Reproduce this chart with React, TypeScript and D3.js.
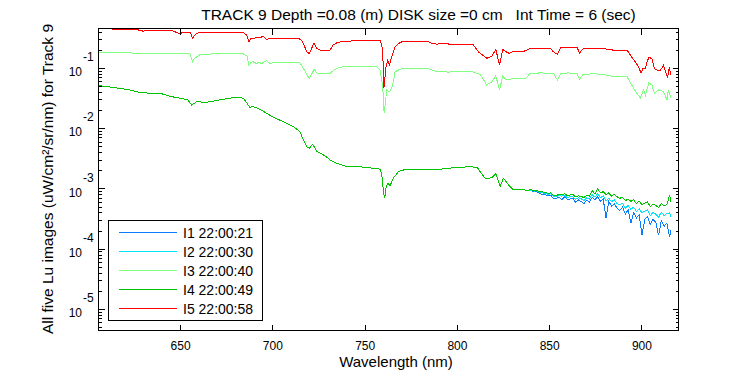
import React from 'react';
import * as d3 from 'd3';

// ---------------- data ----------------
const seriesNames = ['I1 22:00:21', 'I2 22:00:30', 'I3 22:00:40', 'I4 22:00:49', 'I5 22:00:58'];
const seriesColors = ['#0a7cff', '#00e4f4', '#80ff80', '#00c400', '#ff0000'];

const xTicks = [650, 700, 750, 800, 850, 900];
const yTickExps = [-5, -4, -3, -2, -1];

// I5 (red)
const wlI5 = [605, 609, 612, 613.3, 617, 621, 626, 628, 629.6, 632, 638, 645, 647, 649.6, 651.2, 654, 655.3, 656.5, 657.5, 658.7,
  661, 668, 675, 683.8, 685.8, 687, 688.2, 689.5, 691, 693, 694.6, 696.6, 698.4, 700.5, 705, 710, 714, 715.6, 716.9, 718.3,
  719.7, 721, 722.3, 723.8, 725.5, 728, 731, 732.6, 734.6, 738, 743, 748, 752.7, 756.5, 758.1, 759, 759.5, 760.2, 761.3, 762.3,
  763.1, 764.4, 766.2, 768.9, 771, 777, 783.6, 786, 788.8, 791, 794.3, 796, 800, 805, 808.5, 811.4, 815.9, 818.7, 820.8, 822.8,
  824.6, 826.4, 828.2, 830, 835.6, 839.4, 845, 850.3, 852.1, 854.2, 856.1, 860, 864.8, 866.2, 868.2, 873, 879, 884.4, 888, 891.9,
  893.7, 895.4, 896.4, 898.2, 899.5, 900.6, 901.9, 902.8, 903.7, 905.4, 906.7, 908.1, 910, 911.7, 913, 913.9, 914.8, 915.7];
const luI5 = [0.47, 0.465, 0.458, 0.448, 0.44, 0.436, 0.438, 0.43, 0.415, 0.425, 0.426, 0.424, 0.405, 0.372, 0.399, 0.398, 0.392, 0.314, 0.35, 0.382,
  0.396, 0.397, 0.395, 0.396, 0.356, 0.276, 0.32, 0.31, 0.33, 0.318, 0.343, 0.302, 0.316, 0.314, 0.313, 0.316, 0.312, 0.294, 0.243, 0.188,
  0.177, 0.214, 0.265, 0.214, 0.201, 0.199, 0.202, 0.243, 0.265, 0.283, 0.285, 0.288, 0.294, 0.294, 0.292, 0.243, 0.19, 0.048, 0.106, 0.137,
  0.113, 0.156, 0.228, 0.269, 0.283, 0.284, 0.282, 0.262, 0.252, 0.26, 0.259, 0.249, 0.25, 0.248, 0.249, 0.188, 0.147, 0.16, 0.206, 0.114,
  0.206, 0.188, 0.177, 0.19, 0.19, 0.214, 0.216, 0.214, 0.188, 0.17, 0.223, 0.224, 0.222, 0.181, 0.214, 0.215, 0.213, 0.201, 0.2, 0.201,
  0.166, 0.14, 0.128, 0.106, 0.083, 0.1, 0.099, 0.128, 0.152, 0.146, 0.1, 0.094, 0.093, 0.113, 0.083, 0.071, 0.104, 0.077];

// I3 (light green)
const wlI3 = [605.7, 612, 620, 626, 635, 645, 652, 655, 656.5, 657.5, 658.7, 661, 670, 678, 684, 686, 687, 688.2, 689.2, 691,
  692.5, 694, 696.6, 698.4, 700, 705, 710, 714.7, 716.5, 718.3, 719.7, 721, 722.3, 724, 727.3, 731, 733.5, 736, 738, 745,
  750, 756.5, 758.1, 759.5, 760.3, 761.7, 763.1, 764.4, 765.3, 766.2, 768.9, 772, 778, 783.6, 788.8, 795, 802, 808, 812.3, 815.9,
  818.7, 820.8, 822.8, 824.6, 826.4, 830.2, 837, 839.4, 845, 852, 854.2, 856.1, 860, 864.8, 866.2, 868.2, 874, 879, 884.4, 888,
  891.9, 895.4, 899.1, 900.9, 901.9, 903.7, 905.4, 906.7, 909, 911.7, 913.6, 914.3, 915.7];
const luI3 = [0.186, 0.184, 0.185, 0.177, 0.176, 0.175, 0.176, 0.174, 0.129, 0.146, 0.156, 0.172, 0.174, 0.175, 0.174, 0.16, 0.114, 0.125, 0.129, 0.121,
  0.125, 0.121, 0.134, 0.121, 0.124, 0.123, 0.124, 0.124, 0.1, 0.08, 0.068, 0.08, 0.096, 0.083, 0.082, 0.083, 0.096, 0.103, 0.106, 0.107,
  0.106, 0.106, 0.094, 0.05, 0.018, 0.044, 0.041, 0.047, 0.06, 0.088, 0.097, 0.1, 0.1, 0.1, 0.088, 0.087, 0.088, 0.088, 0.08, 0.053,
  0.06, 0.075, 0.044, 0.075, 0.064, 0.068, 0.068, 0.083, 0.084, 0.083, 0.064, 0.083, 0.084, 0.082, 0.066, 0.08, 0.081, 0.08, 0.073, 0.072,
  0.073, 0.047, 0.032, 0.044, 0.036, 0.058, 0.053, 0.039, 0.044, 0.041, 0.03, 0.044, 0.033];

// I1 / I2 / I4 coincide below 840 nm
const wlLowShared = [606, 610, 614, 617, 621, 625, 628, 632, 636, 639, 642, 645, 648, 651, 654, 656, 658.7, 661, 664, 668,
  671, 675, 678.5, 682, 684, 686, 687.5, 689, 691, 693, 696.6, 700, 703, 705.6, 708, 711, 714.7, 716.5, 718.3, 719.7,
  721.6, 723.8, 725.5, 727.3, 729, 731, 734.6, 737, 740, 743, 746, 749, 752, 755, 758.1, 759, 759.9, 760.6, 761.3, 762.3,
  763.5, 765.3, 768, 771, 775, 780, 785, 790, 795, 801.5, 806, 810.7, 812.3, 815, 817, 818.7, 820.8, 821.8, 823.2, 824.9,
  826.5, 827.7, 830.2, 833, 835.6, 838];
const luLowShared = [0.0515, 0.050, 0.048, 0.0467, 0.0447, 0.0421, 0.0395, 0.0390, 0.0387, 0.0386, 0.0361, 0.0341, 0.0326, 0.0316, 0.0299, 0.0247, 0.0280, 0.0277, 0.0274, 0.0287,
  0.0299, 0.0314, 0.0326, 0.0329, 0.0319, 0.0263, 0.0226, 0.0233, 0.0224, 0.0209, 0.0180, 0.0156, 0.0142, 0.0131, 0.0120, 0.0108, 0.00892, 0.0065, 0.00504, 0.00474,
  0.00552, 0.00416, 0.00395, 0.00367, 0.00341, 0.00303, 0.00267, 0.00251, 0.00235, 0.00237, 0.00234, 0.00230, 0.00224, 0.00220, 0.00213, 0.00171, 0.000906, 0.000705, 0.00103, 0.00125,
  0.00113, 0.00151, 0.00194, 0.00207, 0.00207, 0.00207, 0.00211, 0.00211, 0.00220, 0.00230, 0.00232, 0.00230, 0.00194, 0.00151, 0.00151, 0.00153, 0.00178, 0.00145, 0.00110, 0.00151,
  0.00131, 0.00117, 0.000966, 0.000985, 0.000966, 0.000950];

const wlLowTail = [840, 841.5, 843, 844.5, 846, 847.5, 849, 850.5, 852, 853.5, 855, 856.5, 858, 859.5, 861, 862.5, 864, 865.5, 867, 868.5,
  870, 871.5, 873, 874.5, 876, 877.5, 879, 880.5, 882, 883.5, 885, 886.5, 888, 889.5, 891, 892.5, 894, 895.5, 897, 898.5,
  900, 901.5, 903, 904.5, 906, 907.5, 909, 910.5, 912, 913.5, 915, 915.7];
const luI1Tail = [0.00093, 0.00089, 0.00090, 0.00084, 0.00081, 0.00082, 0.00076, 0.00079, 0.00070, 0.00069, 0.00073, 0.00066, 0.00074, 0.00067, 0.00068, 0.00070, 0.00060, 0.00066, 0.00062, 0.00057,
  0.00065, 0.00061, 0.00072, 0.00066, 0.00074, 0.00063, 0.00068, 0.00033, 0.00062, 0.00052, 0.00057, 0.00048, 0.00044, 0.00050, 0.00038, 0.00045, 0.00027, 0.00040, 0.00033, 0.00037,
  0.00017, 0.00031, 0.00035, 0.00026, 0.00031, 0.00028, 0.00017, 0.00030, 0.00024, 0.00027, 0.00016, 0.00021];
const luI2Tail = [0.00095, 0.00092, 0.00093, 0.00088, 0.00086, 0.00085, 0.00081, 0.00083, 0.00075, 0.00074, 0.00078, 0.00076, 0.00079, 0.00072, 0.00074, 0.00075, 0.00067, 0.00071, 0.00069, 0.00064,
  0.00071, 0.00068, 0.00081, 0.00073, 0.00084, 0.00071, 0.00077, 0.00063, 0.00070, 0.00061, 0.00066, 0.00057, 0.00055, 0.00058, 0.00048, 0.00053, 0.00046, 0.00050, 0.00042, 0.00047,
  0.00040, 0.00043, 0.00045, 0.00036, 0.00041, 0.00038, 0.00034, 0.00041, 0.00036, 0.00039, 0.00040, 0.00034];
const luI4Tail = [0.00097, 0.00093, 0.00095, 0.00090, 0.00089, 0.00088, 0.00084, 0.00086, 0.00079, 0.00077, 0.00082, 0.00080, 0.00083, 0.00078, 0.00079, 0.00081, 0.00074, 0.00077, 0.00075, 0.00072,
  0.00078, 0.00076, 0.00094, 0.00083, 0.00101, 0.00086, 0.00090, 0.00081, 0.00086, 0.00076, 0.00082, 0.00074, 0.00070, 0.00073, 0.00064, 0.00068, 0.00062, 0.00066, 0.00057, 0.00063,
  0.00055, 0.00058, 0.00061, 0.00051, 0.00056, 0.00053, 0.00049, 0.00057, 0.00052, 0.00055, 0.00079, 0.00060];

// ---------------- layout ----------------
const W = 750, H = 375;
const L = 98.5, R = 678.5, T = 28.5, B = 330.5;
const FONT = '"Liberation Sans", Arial, Helvetica, sans-serif';

const x = d3.scaleLinear().domain([605.5, 919.8]).range([L, R]);
const y = d3.scaleLog().domain([4.48e-6, 0.459]).range([B, T]);

const zip = (a: number[], b: number[]) => a.map((w, i) => [w, b[i]] as [number, number]);
const wlLow = wlLowShared.concat(wlLowTail);
const seriesData: [number, number][][] = [
  zip(wlLow, luLowShared.concat(luI1Tail)),
  zip(wlLow, luLowShared.concat(luI2Tail)),
  zip(wlI3, luI3),
  zip(wlLow, luLowShared.concat(luI4Tail)),
  zip(wlI5, luI5),
];

const line = d3.line<[number, number]>().x(d => x(d[0])).y(d => y(d[1]));

export default function App() {
  const [d0, d1] = y.domain();
  const minor: number[] = [];
  for (let e = -6; e <= 0; e++) {
    for (let k = 2; k <= 9; k++) {
      const v = k * Math.pow(10, e);
      if (v > d0 && v < d1) minor.push(v);
    }
  }
  const major = yTickExps.map(e => Math.pow(10, e));
  const snap = (v: number) => Math.round(v - 0.5) + 0.5;

  return (
    <svg width={W} height={H} style={{ position: 'absolute', left: 0, top: 0, background: '#fff' }} fontFamily={FONT}>
      <rect x={0} y={0} width={W} height={H} fill="#fff" />
      <defs>
        <clipPath id="plotclip">
          <rect x={L} y={T} width={R - L} height={B - T} />
        </clipPath>
      </defs>
      <rect x={L} y={T} width={R - L} height={B - T} fill="#fff" />
      <g clipPath="url(#plotclip)">
        {seriesData.map((s, i) => (
          <path key={i} d={line(s) || ''} fill="none" stroke={seriesColors[i]} strokeWidth={1} shapeRendering="crispEdges" />
        ))}
      </g>
      {/* axes box */}
      <rect x={L} y={T} width={R - L} height={B - T} fill="none" stroke="#000" strokeWidth={1} shapeRendering="crispEdges" />
      {/* x ticks */}
      {xTicks.map(t => {
        const xx = snap(x(t));
        return (
          <g key={t}>
            <line x1={xx} x2={xx} y1={B} y2={B - 6} stroke="#000" shapeRendering="crispEdges" />
            <line x1={xx} x2={xx} y1={T} y2={T + 6} stroke="#000" shapeRendering="crispEdges" />
            <text x={x(t)} y={349.5} fontSize={12} textAnchor="middle" fill="#000">{t}</text>
          </g>
        );
      })}
      {/* y minor ticks */}
      {minor.map((v, i) => {
        const yy = snap(y(v));
        return (
          <g key={'m' + i}>
            <line x1={L} x2={L + 3} y1={yy} y2={yy} stroke="#000" shapeRendering="crispEdges" />
            <line x1={R} x2={R - 3} y1={yy} y2={yy} stroke="#000" shapeRendering="crispEdges" />
          </g>
        );
      })}
      {/* y major ticks */}
      {major.map((v, i) => {
        const yy = snap(y(v));
        return (
          <g key={'M' + i}>
            <line x1={L} x2={L + 6} y1={yy} y2={yy} stroke="#000" shapeRendering="crispEdges" />
            <line x1={R} x2={R - 6} y1={yy} y2={yy} stroke="#000" shapeRendering="crispEdges" />
            <text x={82} y={y(v) + 7.7} fontSize={12} textAnchor="end" fill="#000">10</text>
            <text x={83} y={y(v) - 7.3} fontSize={12} textAnchor="start" fill="#000">{String(yTickExps[i])}</text>
          </g>
        );
      })}
      {/* title */}
      <text x={418.5} y={20} fontSize={15.5} textAnchor="middle" fill="#000" style={{ whiteSpace: 'pre' }}>
        {'TRACK 9 Depth =0.08 (m) DISK size =0 cm   Int Time = 6 (sec)'}
      </text>
      {/* x label */}
      <text x={396} y={367} fontSize={15} textAnchor="middle" fill="#000">Wavelength (nm)</text>
      {/* y label */}
      <text transform={`translate(53,179) rotate(-90)`} fontSize={15.5} textAnchor="middle" fill="#000">
        All five Lu images (uW/cm²/sr/nm) for Track 9
      </text>
      {/* legend */}
      <rect x={108.5} y={220.5} width={154} height={100} fill="#fff" stroke="#000" strokeWidth={1} shapeRendering="crispEdges" />
      {seriesNames.map((n, i) => {
        const yy = 232.5 + i * 19.1;
        return (
          <g key={n}>
            <line x1={119} x2={177} y1={snap(yy)} y2={snap(yy)} stroke={seriesColors[i]} strokeWidth={1} shapeRendering="crispEdges" />
            <text x={183} y={yy + 5} fontSize={14} fill="#000">{n}</text>
          </g>
        );
      })}
    </svg>
  );
}
